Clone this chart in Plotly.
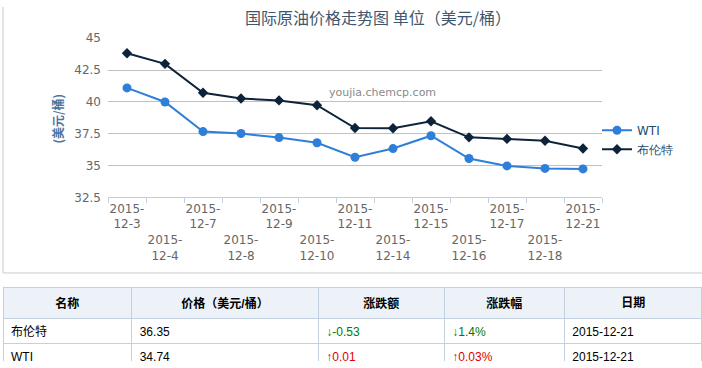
import plotly.graph_objects as go

W, H = 702, 368

dates = ["2015-12-3", "2015-12-4", "2015-12-7", "2015-12-8", "2015-12-9", "2015-12-10",
         "2015-12-11", "2015-12-14", "2015-12-15", "2015-12-16", "2015-12-17",
         "2015-12-18", "2015-12-21"]
wti = [41.10, 40.00, 37.67, 37.52, 37.20, 36.80, 35.66, 36.34, 37.35, 35.56, 34.98, 34.78, 34.74]
brent = [43.82, 42.99, 40.72, 40.27, 40.12, 39.74, 37.95, 37.93, 38.48, 37.22, 37.10, 36.95, 36.35]
y_ticks = [32.5, 35, 37.5, 40, 42.5, 45]

table_header = ["名称", "价格（美元/桶）", "涨跌额", "涨跌幅", "日期"]
table_names = ["布伦特", "WTI"]
table_price = ["36.35", "34.74"]
table_change = ["↓-0.53", "↑0.01"]
table_pct = ["↓1.4%", "↑0.03%"]
table_date = ["2015-12-21", "2015-12-21"]
change_colors = ["#007a00", "#e00000"]

# staggered two-row tick labels
tick_text = []
for i, d in enumerate(dates):
    y, md = d.split("-", 1)
    lbl = f"{y}-<br>{md}"
    if i % 2 == 1:
        lbl = "<br><br>" + lbl
    tick_text.append(lbl)

# pixel layout helpers (margins are zero, so paper == whole figure)
px_left, px_right = 108, 602
px_top, px_bottom = 32.5, 198
def px(x):
    return x / W
def py(y):
    return 1 - y / H

fig = go.Figure()
fig.add_trace(go.Scatter(
    x=dates, y=wti, name="WTI", mode="lines+markers",
    line=dict(color="#2f7ed8", width=2),
    marker=dict(symbol="circle", size=9, color="#2f7ed8"),
))
fig.add_trace(go.Scatter(
    x=dates, y=brent, name="布伦特", mode="lines+markers",
    line=dict(color="#0d233a", width=2),
    marker=dict(symbol="diamond", size=8, color="#0d233a"),
))

black = "#000000"
table_font = "Liberation Sans, Noto Sans CJK SC"
fig.add_trace(go.Table(
    domain=dict(x=[px(3), 1], y=[0, py(292)]),
    columnwidth=[128.7, 186.6, 126, 120, 137.7],
    header=dict(
        values=[f"<b>{h}</b>" for h in table_header],
        align="center", height=25,
        fill_color="#edf2f8", line=dict(color="#c3d0df", width=1),
        font=dict(family=table_font, size=12, color=black),
    ),
    cells=dict(
        values=[table_names, table_price, table_change, table_pct, table_date],
        align="left", height=25,
        fill_color="#ffffff", line=dict(color="#c3d0df", width=1),
        font=dict(family=table_font, size=12,
                  color=[[black, black], [black, black], change_colors, change_colors, [black, black]]),
    ),
))

fig.update_layout(
    width=W, height=H, autosize=False,
    margin=dict(l=0, r=0, t=0, b=0),
    paper_bgcolor="#ffffff", plot_bgcolor="#ffffff",
    font=dict(family="DejaVu Sans", size=12, color="#666666"),
    title=dict(
        text="国际原油价格走势图 单位（美元/桶）",
        x=378 / W, xanchor="center", xref="paper",
        y=py(12), yanchor="middle", yref="paper",
        font=dict(family="Noto Sans CJK SC", size=16, color="#3E576F"),
    ),
    xaxis=dict(
        domain=[px(px_left), px(px_right)],
        type="category", categoryorder="array", categoryarray=dates,
        range=[-0.5, len(dates) - 0.5],
        tickmode="array", tickvals=dates, ticktext=tick_text,
        tickangle=0,
        showgrid=False, zeroline=False,
        showline=True, linecolor="#C0D0E0", linewidth=1,
        ticks="outside", tickson="boundaries", ticklen=5, tickcolor="#C0D0E0",
        tickfont=dict(family="DejaVu Sans", size=12, color="#666666"),
        fixedrange=True,
    ),
    yaxis=dict(
        domain=[py(px_bottom), py(px_top)],
        range=[32.5, 45],
        tickmode="array", tickvals=y_ticks,
        ticktext=[f"{v:g}" for v in y_ticks],
        showgrid=True, gridcolor="#C0C0C0", gridwidth=1,
        zeroline=False, showline=False, ticks="",
        ticklabelstandoff=6,
        tickfont=dict(family="DejaVu Sans", size=12, color="#666666"),
        fixedrange=True,
    ),
    legend=dict(
        x=px(597), xanchor="left", y=py(113), yanchor="top",
        bgcolor="rgba(0,0,0,0)", borderwidth=0,
        font=dict(family="DejaVu Sans", size=12, color="#274b6d"),
        tracegroupgap=0, itemwidth=30,
    ),
    showlegend=True,
    annotations=[
        dict(text="<b>(美元/桶)</b>", xref="paper", yref="paper",
             x=px(58), y=py(116), xanchor="center", yanchor="middle",
             textangle=-90, showarrow=False,
             font=dict(family="Noto Sans CJK SC", size=12, color="#4d759e")),
        dict(text="youjia.chemcp.com", xref="paper", yref="paper",
             x=px(382), y=py(89), xanchor="center", yanchor="middle",
             showarrow=False,
             font=dict(family="DejaVu Sans", size=11, color="#8a8a8a")),
    ],
    shapes=[
        dict(type="line", xref="paper", yref="paper",
             x0=px(3), x1=px(3), y0=py(276.5), y1=1,
             line=dict(color="#c4ccd6", width=1)),
        dict(type="line", xref="paper", yref="paper",
             x0=px(3), x1=1, y0=py(276.5), y1=py(276.5),
             line=dict(color="#c4ccd6", width=1)),
    ],
)

fig.write_html(
    "out.html",
    config={"displayModeBar": False},
    post_script="document.body.style.margin='0';document.body.style.overflow='hidden';",
)
